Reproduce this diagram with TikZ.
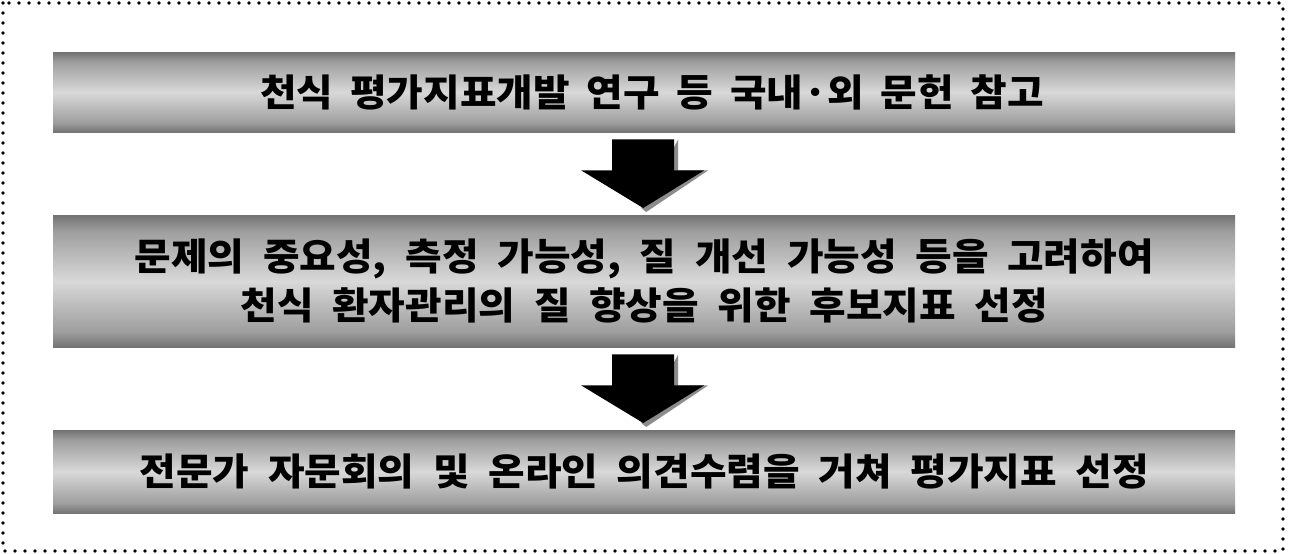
\documentclass[tikz,border=0pt]{standalone}
\usepackage{fontspec}
\newfontfamily\kr{Noto Sans CJK KR}[FakeStretch=1.06]
\usetikzlibrary{calc}
\pgfdeclareverticalshading{barshade}{100bp}{color(0bp)=(black!55); color(25bp)=(black!55); color(31bp)=(black!38); color(50bp)=(black!15); color(69bp)=(black!38); color(75bp)=(black!55); color(100bp)=(black!55)}
\tikzset{
  barbox/.style={shading=barshade, draw=none, inner sep=0pt, anchor=north west, minimum width=1182pt,
    font=\kr\bfseries\fontsize{37.5}{49}\selectfont, align=center, text=black},
  blockarrow/.style={fill=black},
  arrowshadow/.style={fill=black!45},
  framedots/.style={line width=3.6pt, dash pattern=on 0pt off 10pt, line cap=round}
}
\begin{document}
\begin{tikzpicture}[x=1pt,y=-1pt]
\useasboundingbox (0,0) rectangle (1290,554);
\draw[framedots] (3,3) rectangle (1283,551);
\node[barbox, minimum height=80pt] (b1) at (53,52) {\hspace*{16pt}\spaceskip=0.45em 천식 평가지표개발 연구 등 국내·외 문헌 참고};
\node[barbox, minimum height=132pt] (b2) at (53,215) {\spaceskip=0.5em 문제의 중요성, 측정 가능성, 질 개선 가능성 등을 고려하여\\ \spaceskip=0.5em 천식 환자관리의 질 향상을 위한 후보지표 선정};
\node[barbox, minimum height=83pt] (b3) at (53,430) {\spaceskip=0.5em 전문가 자문회의 및 온라인 의견수렴을 거쳐 평가지표 선정};
\foreach \s/\e in {b1/b2, b2/b3}{
  \coordinate (top) at ($(\s.south)+(-1,7)$);
  \coordinate (tip) at ($(\e.north)+(-1,-7)$);
  \fill[arrowshadow] ($(top)+(35,0)$) -- ($(top)+(35,31)$) -- ($(top)+(65,31)$) -- ($(tip)+(3,4)$) -- ($(tip)+(-2,0)$) -- cycle;
  \fill[blockarrow] ($(top)+(-31,0)$) -- ($(top)+(31,0)$) -- ($(top)+(31,31)$) -- ($(top)+(61,31)$) -- (tip) -- ($(top)+(-62,31)$) -- ($(top)+(-31,31)$) -- cycle;
}
\end{tikzpicture}
\end{document}
